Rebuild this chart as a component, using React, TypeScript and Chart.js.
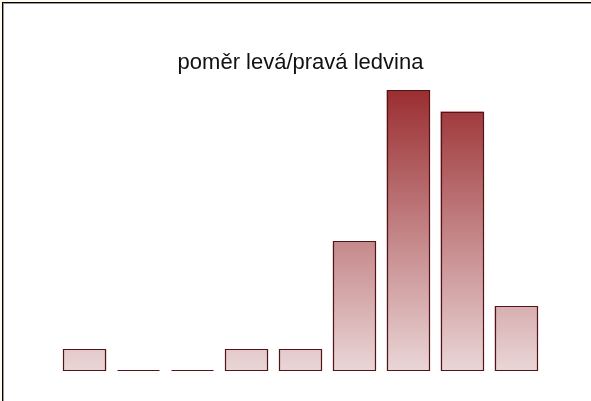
import React, { useEffect, useRef } from "react";
import { Chart, registerables } from "chart.js";

Chart.register(...registerables);

const categories = ["1", "2", "3", "4", "5", "6", "7", "8", "9"];
const counts = [1, 0, 0, 1, 1, 6, 13, 12, 3];
const titleText = "poměr levá/pravá ledvina";

const outlinePlugin = {
  id: "barOutline",
  afterDatasetsDraw(chart: any) {
    const ctx = chart.ctx;
    const meta = chart.getDatasetMeta(0);
    ctx.save();
    ctx.strokeStyle = "#521416";
    ctx.lineWidth = 1.2;
    meta.data.forEach((bar: any) => {
      const p = bar.getProps(["x", "y", "base", "width"], true);
      const l = Math.round(p.x - p.width / 2) + 0.5;
      const r = Math.round(p.x + p.width / 2) - 0.5;
      const t = Math.round(Math.min(p.y, p.base)) + 0.5;
      const b = Math.round(Math.max(p.y, p.base)) - 0.5;
      ctx.beginPath();
      if (b - t < 1) {
        ctx.moveTo(l, b);
        ctx.lineTo(r, b);
      } else {
        ctx.rect(l, t, r - l, b - t);
      }
      ctx.stroke();
    });
    ctx.restore();
  },
};

export default function App() {
  const ref = useRef<HTMLCanvasElement | null>(null);

  useEffect(() => {
    document.body.style.margin = "0";
    const canvas = ref.current!;
    const chart = new Chart(canvas, {
      type: "bar",
      data: {
        labels: categories,
        datasets: [
          {
            data: counts,
            backgroundColor: (c: any) => {
              const area = c.chart.chartArea;
              if (!area) return "#c08080";
              const g = c.chart.ctx.createLinearGradient(0, area.top, 0, area.bottom);
              g.addColorStop(0, "#9a2e31");
              g.addColorStop(1, "#ead6d7");
              return g;
            },
            borderWidth: 0,
            barPercentage: 0.8,
            categoryPercentage: 1,
          },
        ],
      },
      options: {
        animation: false,
        responsive: false,
        layout: { padding: { left: 58, right: 48, bottom: 30, top: 0 } },
        plugins: {
          legend: { display: false },
          tooltip: { enabled: false },
          title: {
            display: true,
            text: titleText,
            color: "#111",
            font: { family: "Liberation Sans, Arial, sans-serif", size: 22, weight: "normal" },
            padding: { top: 50, bottom: 13.6 },
          },
        },
        scales: {
          x: { display: false },
          y: { display: false, min: 0, max: 13 },
        },
      },
      plugins: [outlinePlugin],
    });
    return () => chart.destroy();
  }, []);

  return (
    <div style={{ position: "relative", width: 591, height: 401, background: "#fffaed", overflow: "hidden" }}>
      <div
        style={{
          position: "absolute",
          left: 2,
          top: 2,
          width: 700,
          height: 500,
          borderTop: "1px solid #000",
          borderLeft: "1px solid #000",
          background: "#fff",
        }}
      >
        <div style={{ width: "100%", height: "100%", borderTop: "1px solid #999", borderLeft: "1px solid #999" }} />
      </div>
      <canvas ref={ref} width={591} height={401} style={{ position: "absolute", left: 0, top: 0 }} />
    </div>
  );
}
